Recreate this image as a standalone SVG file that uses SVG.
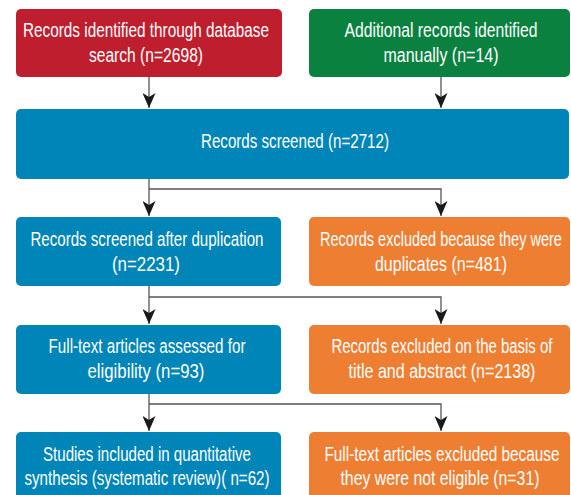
<svg xmlns="http://www.w3.org/2000/svg" width="571" height="495" viewBox="0 0 571 495">
  <style>
    .box { stroke: none; }
    .red { fill: #BF1E2E; }
    .green { fill: #0B8140; }
    .blue { fill: #0085B8; }
    .orange { fill: #EE7E32; }
    .lbl { font-family: "Liberation Sans", Arial, sans-serif; font-size: 20px; fill: #FFFFFF; text-anchor: middle; }
    .conn { fill: none; stroke: #555555; stroke-width: 1.3; marker-end: url(#arrow); }
  </style>
  <defs>
    <marker id="arrow" viewBox="0 0 15 13" refX="15" refY="6.5" markerWidth="15" markerHeight="13" markerUnits="userSpaceOnUse" orient="auto">
      <path d="M0,0 L15,6.5 L0,13 L4,6.5 Z" fill="#1a1a1a"/>
    </marker>
  </defs>

  <!-- connectors -->
  <g id="connectors">
    <path class="conn" d="M149,77 V108"/>
    <path class="conn" d="M441,77 V108"/>
    <path class="conn" d="M149,179 V216"/>
    <path class="conn" d="M149,189 H441 V216"/>
    <path class="conn" d="M149,286 V324"/>
    <path class="conn" d="M149,297 H441 V324"/>
    <path class="conn" d="M149,394 V431"/>
    <path class="conn" d="M149,404 H441 V431"/>
  </g>

  <!-- labels use a condensed look: x is pre-divided by the 0.77 horizontal scale -->
  <!-- identification -->
  <g id="db-search">
    <rect class="box red" x="16" y="9" width="266" height="68" rx="5"/>
    <text class="lbl" transform="scale(0.77 1)" x="189.6" y="37.5" textLength="319.5" lengthAdjust="spacingAndGlyphs">Records identified through database</text>
    <text class="lbl" transform="scale(0.77 1)" x="189.6" y="62.5" textLength="148.1" lengthAdjust="spacingAndGlyphs">search (n=2698)</text>
  </g>
  <g id="manual">
    <rect class="box green" x="309" y="9" width="261" height="68" rx="5"/>
    <text class="lbl" transform="scale(0.77 1)" x="572.7" y="37.5" textLength="250.6" lengthAdjust="spacingAndGlyphs">Additional records identified</text>
    <text class="lbl" transform="scale(0.77 1)" x="572.7" y="62.5" textLength="149.4" lengthAdjust="spacingAndGlyphs">manually (n=14)</text>
  </g>

  <!-- screening -->
  <g id="screened">
    <rect class="box blue" x="16" y="109" width="553" height="70" rx="5"/>
    <text class="lbl" transform="scale(0.77 1)" x="383.1" y="148" textLength="244.2" lengthAdjust="spacingAndGlyphs">Records screened (n=2712)</text>
  </g>
  <g id="after-dup">
    <rect class="box blue" x="16" y="217" width="265" height="69" rx="5"/>
    <text class="lbl" transform="scale(0.77 1)" x="190.9" y="246" textLength="302.6" lengthAdjust="spacingAndGlyphs">Records screened after duplication</text>
    <text class="lbl" transform="scale(0.77 1)" x="189.6" y="271" textLength="88.3" lengthAdjust="spacingAndGlyphs">(n=2231)</text>
  </g>
  <g id="duplicates">
    <rect class="box orange" x="309" y="217" width="261" height="69" rx="5"/>
    <text class="lbl" transform="scale(0.77 1)" x="572.7" y="246" font-size="19" textLength="314" lengthAdjust="spacingAndGlyphs">Records excluded because they were</text>
    <text class="lbl" transform="scale(0.77 1)" x="572.7" y="271" textLength="171.4" lengthAdjust="spacingAndGlyphs">duplicates (n=481)</text>
  </g>

  <!-- eligibility -->
  <g id="full-text">
    <rect class="box blue" x="16" y="325" width="265" height="69" rx="5"/>
    <text class="lbl" transform="scale(0.77 1)" x="190.9" y="353" textLength="255.8" lengthAdjust="spacingAndGlyphs">Full-text articles assessed for</text>
    <text class="lbl" transform="scale(0.77 1)" x="189.6" y="378" textLength="151.9" lengthAdjust="spacingAndGlyphs">eligibility (n=93)</text>
  </g>
  <g id="title-abstract">
    <rect class="box orange" x="309" y="325" width="261" height="69" rx="5"/>
    <text class="lbl" transform="scale(0.77 1)" x="574.0" y="353" textLength="287.0" lengthAdjust="spacingAndGlyphs">Records excluded on the basis of</text>
    <text class="lbl" transform="scale(0.77 1)" x="574.0" y="378" textLength="242.9" lengthAdjust="spacingAndGlyphs">title and abstract (n=2138)</text>
  </g>

  <!-- inclusion -->
  <g id="included">
    <rect class="box blue" x="16" y="432" width="265" height="70" rx="5"/>
    <text class="lbl" transform="scale(0.77 1)" x="190.9" y="461" textLength="270.1" lengthAdjust="spacingAndGlyphs">Studies included in quantitative</text>
    <text class="lbl" transform="scale(0.77 1)" x="190.9" y="485" textLength="318.2" lengthAdjust="spacingAndGlyphs">synthesis (systematic review)( n=62)</text>
  </g>
  <g id="not-eligible">
    <rect class="box orange" x="309" y="432" width="261" height="70" rx="5"/>
    <text class="lbl" transform="scale(0.77 1)" x="574.0" y="461" textLength="305.2" lengthAdjust="spacingAndGlyphs">Full-text articles excluded because</text>
    <text class="lbl" transform="scale(0.77 1)" x="571.4" y="485" textLength="258.4" lengthAdjust="spacingAndGlyphs">they were not eligible (n=31)</text>
  </g>
</svg>
